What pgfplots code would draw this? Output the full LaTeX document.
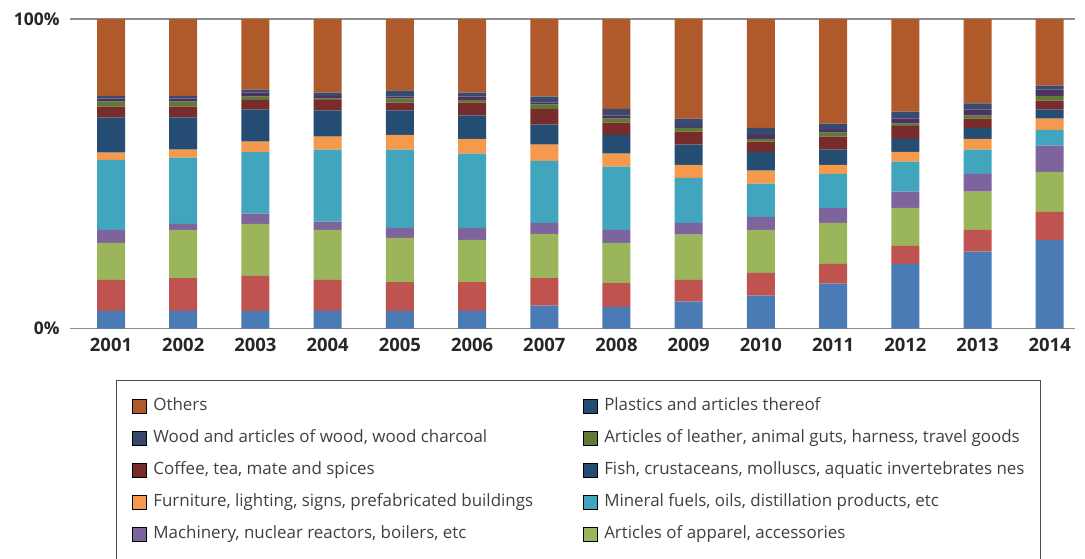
\documentclass[border=0pt]{standalone}
\usepackage{pgfplots}
\usepackage{pgfplotstable}
\usepackage{fontspec}
\setmainfont{Open Sans}
\pgfplotsset{compat=1.18}
\definecolor{cOthers}{HTML}{B0592A}
\definecolor{cSlate}{HTML}{3A4A6E}
\definecolor{cWood}{HTML}{374769}
\definecolor{cDPurple}{HTML}{4D3160}
\definecolor{cLeather}{HTML}{5E7A35}
\definecolor{cCoffee}{HTML}{772B2B}
\definecolor{cFish}{HTML}{254C72}
\definecolor{cFurn}{HTML}{F59A4C}
\definecolor{cMineral}{HTML}{42A5BE}
\definecolor{cMach}{HTML}{7E649D}
\definecolor{cApparel}{HTML}{9AB55A}
\definecolor{cRed}{HTML}{BE5350}
\definecolor{cBlue}{HTML}{4A7BB5}
\definecolor{txt}{HTML}{262626}
\definecolor{legtxt}{HTML}{404040}
\pgfplotstableread{
x blue red apparel mach mineral furn fish coffee leather dpurple slate others
0 5.7 10.0 12.0 4.2 22.6 2.3 11.4 3.5 1.6 1.0 0.9 24.8
1 5.7 10.6 15.6 1.9 21.4 2.6 10.4 3.5 1.6 1.0 0.9 24.8
2 5.7 11.3 16.8 3.3 20.0 3.3 10.3 3.2 1.0 1.3 1.0 22.8
3 5.7 10.0 16.2 2.6 23.3 4.2 8.4 3.5 0.4 0.9 1.0 23.8
4 5.7 9.3 14.3 3.2 25.3 4.8 7.8 2.6 1.3 0.6 2.0 23.1
5 5.7 9.3 13.6 3.9 24.0 4.8 7.6 4.1 0.9 1.0 1.3 23.8
6 7.4 8.9 14.3 3.5 20.1 5.2 6.5 5.1 1.3 0.7 1.9 25.1
7 7.0 7.7 13.0 4.2 20.4 4.2 6.1 3.9 1.3 1.0 2.2 29.0
8 8.7 7.0 14.6 3.8 14.6 4.2 6.5 4.2 1.2 0.3 2.7 32.2
9 10.6 7.4 13.9 4.2 10.7 4.2 6.1 3.3 0.9 1.3 2.2 35.2
10 14.5 6.4 13.2 4.9 11.0 2.9 4.9 4.2 1.3 0.9 2.0 33.8
11 20.9 5.8 12.3 5.2 9.7 3.2 4.2 4.2 0.7 1.6 2.3 29.9
12 24.8 7.1 12.3 5.8 7.8 3.5 3.5 3.0 1.0 1.9 2.0 27.3
13 28.6 9.1 12.9 8.5 5.1 3.6 2.9 2.9 1.6 2.0 1.3 21.5
}\datatable
\begin{document}
\begin{tikzpicture}
\begin{axis}[
  scale only axis,
  width=1005bp, height=309.5bp,
  ybar stacked,
  bar width=28bp,
  xmin=-0.568, xmax=13.35,
  ymin=0, ymax=100,
  xtick={0,...,13},
  xticklabels={2001,2002,2003,2004,2005,2006,2007,2008,2009,2010,2011,2012,2013,2014},
  ytick={0,100},
  yticklabels={0\%,100\%},
  major tick length=0pt,
  axis line style={draw=none},
  ymajorgrids,
  major grid style={draw=black!45, line width=1.2bp},
  tick label style={text=txt},
  yticklabel style={font=\fontsize{17.5}{19}\selectfont\bfseries, xshift=-7bp},
  xticklabel style={font=\fontsize{18.5}{20}\selectfont\bfseries, yshift=-6bp},
  legend columns=2,
  legend cell align=left,
  legend style={
    at={(46bp,-51.5bp)}, anchor=north west,
    draw=black!70, line width=0.9bp,
    font=\fontsize{17}{20}\selectfont, text=legtxt,
    inner xsep=16bp, inner ysep=18bp,
    nodes={inner sep=0bp, text depth=4bp, text height=12bp, anchor=west},
    row sep=16bp,
  },
  legend image code/.code={\fill[#1] (0bp,-7bp) rectangle (14bp,7bp);},
]
\addplot[fill=cBlue, draw=none, forget plot] table[x=x, y=blue] {\datatable};
\addplot[fill=cRed, draw=none, forget plot] table[x=x, y=red] {\datatable};
\addplot[fill=cApparel, draw=none, forget plot] table[x=x, y=apparel] {\datatable};
\addplot[fill=cMach, draw=none, forget plot] table[x=x, y=mach] {\datatable};
\addplot[fill=cMineral, draw=none, forget plot] table[x=x, y=mineral] {\datatable};
\addplot[fill=cFurn, draw=none, forget plot] table[x=x, y=furn] {\datatable};
\addplot[fill=cFish, draw=none, forget plot] table[x=x, y=fish] {\datatable};
\addplot[fill=cCoffee, draw=none, forget plot] table[x=x, y=coffee] {\datatable};
\addplot[fill=cLeather, draw=none, forget plot] table[x=x, y=leather] {\datatable};
\addplot[fill=cDPurple, draw=none, forget plot] table[x=x, y=dpurple] {\datatable};
\addplot[fill=cSlate, draw=none, forget plot] table[x=x, y=slate] {\datatable};
\addplot[fill=cOthers, draw=none, forget plot] table[x=x, y=others] {\datatable};
\addlegendimage{fill=cOthers}
\addlegendentry{\hspace{6bp}\makebox[430bp][l]{Others}}
\addlegendimage{fill=cFish}
\addlegendentry{\hspace{6bp}Plastics and articles thereof}
\addlegendimage{fill=cWood}
\addlegendentry{\hspace{6bp}Wood and articles of wood, wood charcoal}
\addlegendimage{fill=cLeather}
\addlegendentry{\hspace{6bp}Articles of leather, animal guts, harness, travel goods\hspace{5bp}}
\addlegendimage{fill=cCoffee}
\addlegendentry{\hspace{6bp}Coffee, tea, mate and spices}
\addlegendimage{fill=cFish}
\addlegendentry{\hspace{6bp}Fish, crustaceans, molluscs, aquatic invertebrates nes}
\addlegendimage{fill=cFurn}
\addlegendentry{\hspace{6bp}Furniture, lighting, signs, prefabricated buildings}
\addlegendimage{fill=cMineral}
\addlegendentry{\hspace{6bp}Mineral fuels, oils, distillation products, etc}
\addlegendimage{fill=cMach}
\addlegendentry{\hspace{6bp}Machinery, nuclear reactors, boilers, etc}
\addlegendimage{fill=cApparel}
\addlegendentry{\hspace{6bp}Articles of apparel, accessories}
\addlegendimage{empty legend}
\addlegendentry{}
\addlegendimage{empty legend}
\addlegendentry{}
\end{axis}
\pgfresetboundingbox
\useasboundingbox (-70bp,-230.5bp) rectangle (1015bp,328.5bp);
\end{tikzpicture}
\end{document}
